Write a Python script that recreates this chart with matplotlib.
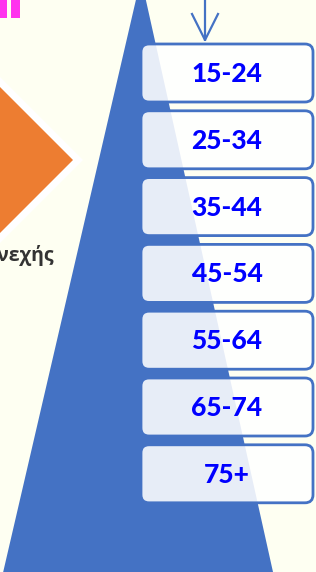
import matplotlib.pyplot as plt
from matplotlib.patches import Polygon, FancyBboxPatch, Rectangle

# age groups shown in the stacked boxes
age_groups = ['15-24', '25-34', '35-44', '45-54', '55-64', '65-74', '75+']
side_word = 'Συνεχής'

BLUE = '#4472C4'
ORANGE = '#ED7D31'
BG = '#FEFFF2'

fig = plt.figure(figsize=(3.16, 5.72), dpi=100)
fig.patch.set_facecolor(BG)
ax = fig.add_axes([0, 0, 1, 1])
ax.set_xlim(0, 316)
ax.set_ylim(572, 0)
ax.axis('off')

# big blue triangle
ax.add_patch(Polygon([(141, -22), (-1, 590), (277, 590)], closed=True,
                     facecolor=BLUE, edgecolor='none', zorder=1))

# orange diamond with white rim, cut by the left edge
ax.add_patch(Polygon([(0, 77), (83, 160), (0, 243), (-83, 160)], closed=True,
                     facecolor='white', edgecolor='none', zorder=1))
ax.add_patch(Polygon([(0, 87), (73, 160), (0, 233), (-73, 160)], closed=True,
                     facecolor=ORANGE, edgecolor='none', zorder=2))

# magenta fragments of a clipped heading
ax.add_patch(Rectangle((0, -2), 7, 20, facecolor='#FF33EE', edgecolor='none', zorder=2))
ax.add_patch(Rectangle((11, -2), 9, 20, facecolor='#FF33EE', edgecolor='none', zorder=2))

ax.text(54, 255, side_word, ha='right', va='center', fontsize=14,
        fontweight='bold', color='#333333', family=['Open Sans', 'DejaVu Sans'], zorder=3)

# arrow pointing to first box
ax.plot([205, 205], [-2, 41], color=BLUE, lw=1.6, zorder=3, solid_capstyle='butt')
ax.plot([192, 205, 218], [14, 40, 14], color=BLUE, lw=1.6, zorder=3)

# boxes
top0, step, h = 44, 66.8, 58
for i, label in enumerate(age_groups):
    y0 = top0 + i * step
    box = FancyBboxPatch((141, y0), 172, h, boxstyle='round,pad=0,rounding_size=8',
                         facecolor=(1, 1, 1, 0.88), edgecolor=BLUE, lw=2.0, zorder=4)
    ax.add_patch(box)
    ax.text(227, y0 + h / 2 + 1, label, ha='center', va='center', fontsize=19,
            fontweight='black', color='#0000FF', family=['Lato', 'DejaVu Sans'], zorder=5)

fig.savefig('out.png', dpi=100, facecolor=BG)
